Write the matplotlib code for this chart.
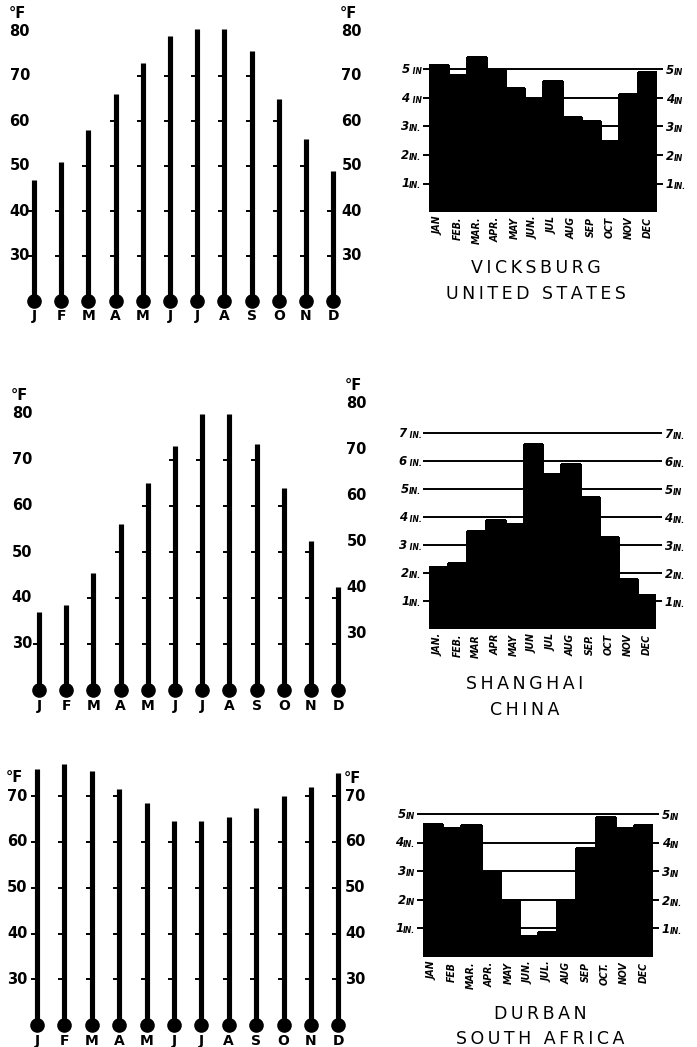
import numpy as np
import matplotlib
matplotlib.use("Agg")
import matplotlib.pyplot as plt
from matplotlib.markers import TICKLEFT

# ---------------------------------------------------------------- data
temp_months = ["J", "F", "M", "A", "M", "J", "J", "A", "S", "O", "N", "D"]

vicksburg_temp = [47, 51, 58, 66, 73, 79, 80.5, 80.5, 75.5, 65, 56, 49]
shanghai_temp = [37, 38.5, 45.5, 56, 65, 73, 80, 80, 73.5, 64, 52.5, 42.5]
durban_temp = [76, 77, 75.5, 71.5, 68.5, 64.5, 64.5, 65.5, 67.5, 70, 72, 75]

vicksburg_temp_ticks = [30, 40, 50, 60, 70, 80]
shanghai_temp_ticks = [30, 40, 50, 60, 70, 80]
durban_temp_ticks = [30, 40, 50, 60, 70]

vicksburg_rain = [5.15, 4.8, 5.45, 4.98, 4.35, 3.95, 4.6, 3.35, 3.2, 2.5, 4.15, 4.9]
shanghai_rain = [2.2, 2.35, 3.5, 3.9, 3.75, 6.6, 5.55, 5.9, 4.7, 3.3, 1.8, 1.2]
durban_rain = [4.65, 4.5, 4.6, 2.98, 1.98, 0.75, 0.88, 1.98, 3.8, 4.9, 4.5, 4.6]

vicksburg_rain_months = ["JAN", "FEB.", "MAR.", "APR.", "MAY", "JUN.",
                         "JUL", "AUG", "SEP", "OCT", "NOV", "DEC"]
shanghai_rain_months = ["JAN.", "FEB.", "MAR", "APR", "MAY", "JUN",
                        "JUL", "AUG", "SEP.", "OCT", "NOV", "DEC"]
durban_rain_months = ["JAN", "FEB", "MAR.", "APR.", "MAY", "JUN.",
                      "JUL.", "AUG", "SEP", "OCT.", "NOV", "DEC"]

vicksburg_rain_ticks = [1, 2, 3, 4, 5]
shanghai_rain_ticks = [1, 2, 3, 4, 5, 6, 7]
durban_rain_ticks = [1, 2, 3, 4, 5]

vicksburg_rain_left = ["1IN.", "2IN.", "3IN.", "4 IN", "5 IN"]
vicksburg_rain_right = ["1IN.", "2IN", "3IN", "4IN", "5IN"]
shanghai_rain_left = ["1IN.", "2IN.", "3 IN.", "4 IN.", "5IN.", "6 IN.", "7 IN."]
shanghai_rain_right = ["1IN.", "2IN.", "3IN.", "4IN.", "5IN", "6IN.", "7IN."]
durban_rain_left = ["1IN.", "2IN", "3IN", "4IN.", "5IN"]
durban_rain_right = ["1IN.", "2IN.", "3IN", "4IN", "5IN"]

vicksburg_title = ["VICKSBURG", "UNITED STATES"]
shanghai_title = ["SHANGHAI", "CHINA"]
durban_title = ["DURBAN", "SOUTH AFRICA"]

# ---------------------------------------------------------------- figure
W, H = 697, 1047
fig = plt.figure(figsize=(W / 100, H / 100), dpi=100)
fig.patch.set_facecolor("white")

BOLD = dict(fontweight="bold", color="black", family="DejaVu Sans")
INCH = dict(fontweight="bold", fontstyle="italic", color="black", family="DejaVu Sans")
THIN = "\u2009"


def add_px_axes(left, right, top, bottom):
    return fig.add_axes([left / W, 1 - bottom / H, (right - left) / W, (bottom - top) / H])


def thermometers(values, ticks, x0, dx, y20, py, left_x, right_x, right_shift):
    xlo, xhi, ylo, yhi = -1.3, 12.6, 14, 86
    ax = add_px_axes(x0 + xlo * dx, x0 + xhi * dx, y20 - (yhi - 20) * py, y20 + (20 - ylo) * py)
    ax.set_xlim(xlo, xhi)
    ax.set_ylim(ylo, yhi)
    ax.axis("off")
    x = np.arange(12)
    ax.vlines(x, 20, values, colors="black", linewidth=3.7, capstyle="butt")
    ax.plot(x, [20] * 12, "o", color="black", markersize=9.5)
    for i, v in enumerate(values):
        lv = [t for t in ticks if t < v - 1]
        ax.plot([i] * len(lv), lv, linestyle="none", marker=TICKLEFT,
                color="black", markersize=4.5, markeredgewidth=1.4)
        ax.text(i, 16.6, temp_months[i], ha="center", va="center", fontsize=10, **BOLD)
    for t in ticks:
        ax.text(left_x, t, str(t), ha="right", va="center", fontsize=10.5, **BOLD)
        ax.text(right_x, t + right_shift, str(t), ha="left", va="center", fontsize=10.5, **BOLD)
    top = ticks[-1]
    ax.text(left_x - 0.15, top + 4.0, "°F", ha="right", va="center", fontsize=10.5, **BOLD)
    ax.text(right_x - 0.05, top + 3.8 + right_shift, "°F", ha="left", va="center", fontsize=10.5, **BOLD)
    return ax


def inch_label(ax, x, y, text, side):
    num, unit = text[0], text[1:]
    if side == "left":
        u = ax.annotate(unit, xy=(x, y), xycoords="data", xytext=(0, -3.4),
                        textcoords="offset points", ha="right", va="baseline",
                        fontsize=5.5, annotation_clip=False, **INCH)
        ax.annotate(num, xy=(0, 0), xycoords=u, ha="right", va="bottom",
                    fontsize=8.5, annotation_clip=False, **INCH)
    else:
        n = ax.annotate(num, xy=(x, y), xycoords="data", xytext=(0, -3.4),
                        textcoords="offset points", ha="left", va="baseline",
                        fontsize=8.5, annotation_clip=False, **INCH)
        ax.annotate(unit, xy=(1, 0), xycoords=n, ha="left", va="bottom",
                    fontsize=5.5, annotation_clip=False, **INCH)


def rainfall(values, months, ticks, left_labels, right_labels, title,
             left, right, y0, py, title_x):
    ytop = ticks[-1] + 0.6
    ax = add_px_axes(left, right, y0 - ytop * py, y0)
    ax.set_xlim(0, 12)
    ax.set_ylim(0, ytop)
    ax.axis("off")
    ax.hlines(ticks, -0.3, 12.3, colors="black", linewidth=1.4, zorder=1, clip_on=False)
    bars = ax.bar(np.arange(12) + 0.5, values, width=1.0, color="black",
                  edgecolor="black", linewidth=0.9, zorder=2)
    for b in bars:
        b.set_antialiased(False)
    for i, m in enumerate(months):
        ax.text(i + 0.5, -0.17, m, rotation=90, ha="center", va="top", fontsize=7.5,
                fontstretch="condensed", **INCH)
    for t, lt, rt in zip(ticks, left_labels, right_labels):
        inch_label(ax, -0.4, t, lt, "left")
        inch_label(ax, 12.45, t, rt, "right")
    ax.text(title_x, -1.98, THIN.join(title[0]), ha="center", va="center",
            fontsize=12.5, color="black", family="DejaVu Sans")
    ax.text(title_x, -2.88, THIN.join(title[1]), ha="center", va="center",
            fontsize=12.5, color="black", family="DejaVu Sans")
    return ax


# ---------------------------------------------------------------- Vicksburg
thermometers(vicksburg_temp, vicksburg_temp_ticks, x0=34, dx=27.2, y20=301, py=4.5,
             left_x=-0.15, right_x=11.3, right_shift=0.0)
rainfall(vicksburg_rain, vicksburg_rain_months, vicksburg_rain_ticks,
         vicksburg_rain_left, vicksburg_rain_right, vicksburg_title,
         left=429, right=657, y0=212, py=28.5, title_x=5.63)

# ---------------------------------------------------------------- Shanghai
thermometers(shanghai_temp, shanghai_temp_ticks, x0=39, dx=27.2, y20=690, py=4.6,
             left_x=-0.25, right_x=11.3, right_shift=2.3)
rainfall(shanghai_rain, shanghai_rain_months, shanghai_rain_ticks,
         shanghai_rain_left, shanghai_rain_right, shanghai_title,
         left=429, right=656, y0=629, py=28.0, title_x=5.07)

# ---------------------------------------------------------------- Durban
thermometers(durban_temp, durban_temp_ticks, x0=37, dx=27.4, y20=1025, py=4.575,
             left_x=-0.35, right_x=11.25, right_shift=0.0)
rainfall(durban_rain, durban_rain_months, durban_rain_ticks,
         durban_rain_left, durban_rain_right, durban_title,
         left=423, right=653, y0=957, py=28.6, title_x=6.1)

fig.savefig("out.png", dpi=100, facecolor="white")
